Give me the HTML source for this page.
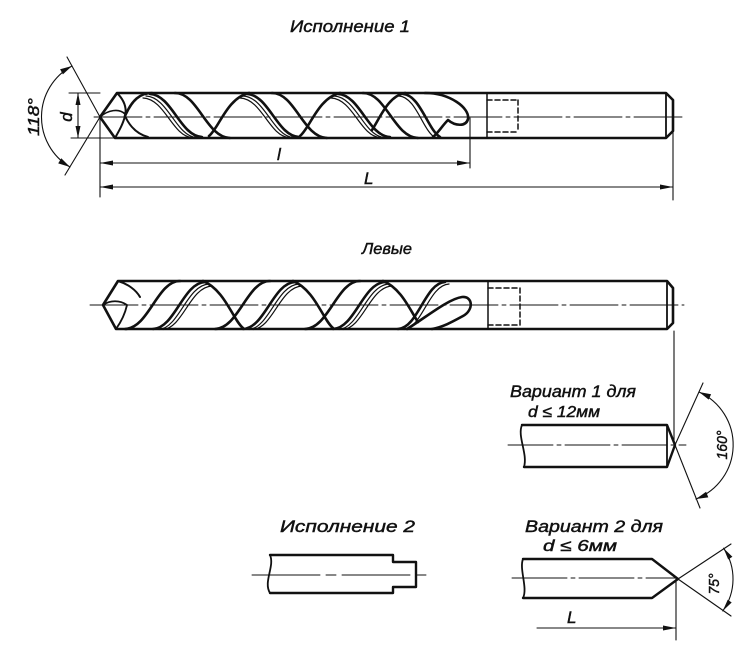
<!DOCTYPE html>
<html><head><meta charset="utf-8"><style>
html,body{margin:0;padding:0;background:#fff;}
svg{display:block;}
text{font-family:"Liberation Sans","DejaVu Sans",sans-serif;font-style:italic;fill:#111;stroke:#111;stroke-width:0.45;}
</style></head><body>
<svg width="750" height="656" viewBox="0 0 750 656" xmlns="http://www.w3.org/2000/svg">
<rect width="750" height="656" fill="#fff"/>

<!-- Titles -->
<text x="290" y="32" font-size="17" textLength="120" lengthAdjust="spacingAndGlyphs">Исполнение 1</text>
<text x="362" y="254" font-size="16" textLength="50" lengthAdjust="spacingAndGlyphs">Левые</text>
<text x="510" y="397" font-size="17" textLength="126" lengthAdjust="spacingAndGlyphs">Вариант 1 для</text>
<text x="528" y="417" font-size="16" textLength="72" lengthAdjust="spacingAndGlyphs">d ≤ 12мм</text>
<text x="280" y="532" font-size="17" textLength="135" lengthAdjust="spacingAndGlyphs">Исполнение 2</text>
<text x="525" y="532" font-size="17" textLength="138" lengthAdjust="spacingAndGlyphs">Вариант 2 для</text>
<text x="543" y="551" font-size="16" textLength="74" lengthAdjust="spacingAndGlyphs">d ≤ 6мм</text>
<text x="277" y="160" font-size="17">l</text>
<text x="364" y="184" font-size="17">L</text>
<text x="567" y="623" font-size="17">L</text>
<text transform="translate(39,117) rotate(-90)" font-size="16" text-anchor="middle" textLength="38" lengthAdjust="spacingAndGlyphs">118°</text>
<text transform="translate(72,117) rotate(-90)" font-size="17" text-anchor="middle">d</text>
<text transform="translate(727,445) rotate(-90)" font-size="15" text-anchor="middle" textLength="29" lengthAdjust="spacingAndGlyphs">160°</text>
<text transform="translate(719,584) rotate(-90)" font-size="15" text-anchor="middle" textLength="21" lengthAdjust="spacingAndGlyphs">75°</text>

<g stroke="#111" fill="none" stroke-linecap="round" stroke-linejoin="round">

<!-- ================= TOP DRILL ================= -->
<line x1="94" y1="117" x2="684" y2="117" stroke-width="0.9" stroke-dasharray="48 4 4 4"/>
<path d="M100,117 L117,93 L666,93 L673,100 L673,131 L666,138 L115,138 Z" stroke-width="2.6"/>
<line x1="666" y1="93" x2="666" y2="138" stroke-width="1.8"/>
<!-- lip -->
<path d="M117,93 C124,100 127,108 125,116 C123,124 119,131 115,138" stroke-width="2"/>
<path d="M100,117 C108,110 119,108 125,114" stroke-width="1.6"/>
<path d="M125,116 C130,127 137,134 148,137" stroke-width="2"/>
<!-- flutes -->
<g stroke-width="2.6">
<path d="M125,116 C132,100 140,93 152,93"/>
<path d="M150,94 C172,95 180,136 202,137"/>
<path d="M175,93 C198,93 206,137 230,138"/>
<path d="M209,136 C219,128 227,98 249,93"/>
<path d="M247,94 C269,95 277,136 299,137"/>
<path d="M272,93 C295,93 303,137 327,138"/>
<path d="M300,136 C310,128 318,98 340,93"/>
<path d="M338,94 C360,95 368,136 390,137"/>
<path d="M363,93 C386,93 394,137 418,138"/>
<path d="M372,130 C380,118 388,96 405,93"/>
<path d="M403,94 C420,95 428,130 440,137"/>
<path d="M425,93 C450,93 470,108 468,119 C466,127 455,126 448,120 C442,126 438,133 433,137"/>
</g>
<g stroke-width="1.2">
<path d="M146,96 C168,97 176,136 196,137.5"/>
<path d="M143,98 C165,99 172,136 192,137.5"/>
<path d="M243,96 C265,97 273,136 293,137.5"/>
<path d="M240,98 C262,99 269,136 289,137.5"/>
<path d="M334,96 C356,97 364,136 384,137.5"/>
<path d="M331,98 C353,99 360,136 380,137.5"/>
<path d="M399,96 C416,97 423,131 435,137.5"/>
</g>
<!-- shank marking box -->
<line x1="487" y1="93" x2="487" y2="138" stroke-width="1.5"/>
<line x1="518" y1="100" x2="518" y2="132" stroke-width="1.5" stroke-dasharray="5 3"/>
<line x1="487" y1="100" x2="518" y2="100" stroke-width="1.5" stroke-dasharray="5 3"/>
<line x1="487" y1="132" x2="518" y2="132" stroke-width="1.5" stroke-dasharray="5 3"/>

<!-- dimensions -->
<g stroke-width="1.1">
<line x1="100" y1="117" x2="100" y2="197"/>
<line x1="470" y1="118" x2="470" y2="168"/>
<line x1="673" y1="100" x2="673" y2="200"/>
<line x1="100" y1="163" x2="470" y2="163"/>
<line x1="100" y1="187" x2="673" y2="187"/>
<line x1="69" y1="93" x2="100" y2="93"/>
<line x1="71" y1="138" x2="114" y2="138"/>
<line x1="78" y1="93" x2="78" y2="138"/>
<line x1="67" y1="57" x2="100" y2="117"/>
<line x1="100" y1="117" x2="65" y2="175"/>
<path d="M72,66 A58,58 0 0 0 70,167"/>
<line x1="674" y1="331" x2="674" y2="443"/>
<line x1="703" y1="383" x2="675" y2="445"/>
<line x1="675" y1="445" x2="700" y2="508"/>
<path d="M699,392 A58,58 0 0 1 696,499"/>
<line x1="731" y1="544" x2="678" y2="579"/>
<line x1="678" y1="579" x2="731" y2="616"/>
<path d="M723.6,548.2 A55,55 0 0 1 722.8,610.9"/>
<line x1="537" y1="628" x2="676" y2="628"/>
<line x1="676" y1="579" x2="676" y2="640"/>
</g>
</g>

<!-- arrowheads -->
<g fill="#111" stroke="none">
<polygon points="100,163 113,160.5 113,165.5"/>
<polygon points="470,163 457,160.5 457,165.5"/>
<polygon points="100,187 113,184.5 113,189.5"/>
<polygon points="673,187 660,184.5 660,189.5"/>
<polygon points="78,93 75.5,105 80.5,105"/>
<polygon points="78,138 75.5,126 80.5,126"/>
<polygon points="72,66 62.9,74.4 60.1,69.2"/>
<polygon points="70,167 58.2,163.4 61.3,158.2"/>
<polygon points="699,392 711.1,394.2 708.7,399.6"/>
<polygon points="696,499 708.3,497.4 706.1,491.8"/>
<polygon points="723.6,548.2 732.4,556.7 728.2,559.5"/>
<polygon points="722.8,610.9 731.7,602.5 727.7,599.7"/>
<polygon points="676,628 663,625.5 663,630.5"/>
</g>

<g stroke="#111" fill="none" stroke-linecap="round" stroke-linejoin="round">
<!-- ================= LEFT-HAND DRILL ================= -->
<line x1="90" y1="305" x2="684" y2="305" stroke-width="0.9" stroke-dasharray="48 4 4 4"/>
<path d="M103,305 L118,281 L667,281 L673,288 L673,323 L667,329 L116,329 Z" stroke-width="2.6"/>
<line x1="667" y1="281" x2="667" y2="329" stroke-width="1.8"/>
<path d="M118,281 C128,284 136,290 140,297" stroke-width="2"/>
<path d="M103,305 C110,300 120,300 127,305 C125,314 121,322 116,329" stroke-width="1.8"/>
<g stroke-width="2.6">
<path d="M243,328 C233,320 225,290 203,281"/>
<path d="M205,282 C183,283 175,328 153,329"/>
<path d="M180,281 C157,281 149,328 125,329"/>
<path d="M333,328 C323,320 315,290 293,281"/>
<path d="M295,282 C273,283 265,328 243,329"/>
<path d="M270,281 C247,281 239,328 215,329"/>
<path d="M418,322 C410,310 401,288 383,281"/>
<path d="M385,282 C363,283 355,328 333,329"/>
<path d="M360,281 C337,281 329,328 305,329"/>
<path d="M445,282 C425,283 418,328 398,329"/>
<path d="M407,329 C425,318 448,299 462,297 C473,296 474,310 463,316 C452,322 443,327 432,329"/>
</g>
<g stroke-width="1.2">
<path d="M209,284 C187,285 179,328 159,329.5"/>
<path d="M212,286 C190,287 183,328 163,329.5"/>
<path d="M299,284 C277,285 269,328 249,329.5"/>
<path d="M302,286 C280,287 273,328 253,329.5"/>
<path d="M389,284 C367,285 359,328 339,329.5"/>
<path d="M392,286 C370,287 363,328 343,329.5"/>
<path d="M449,284 C429,285 422,328 404,329.5"/>
</g>
<line x1="488" y1="281" x2="488" y2="329" stroke-width="1.5"/>
<line x1="520" y1="288" x2="520" y2="325" stroke-width="1.5" stroke-dasharray="5 3"/>
<line x1="488" y1="288" x2="520" y2="288" stroke-width="1.5" stroke-dasharray="5 3"/>
<line x1="488" y1="325" x2="520" y2="325" stroke-width="1.5" stroke-dasharray="5 3"/>

<!-- ================= VARIANT 1 ================= -->
<line x1="508" y1="445" x2="686" y2="445" stroke-width="0.9" stroke-dasharray="45 4 4 4"/>
<path d="M522,425 L667,425 L675,445 L667,467 L524,467" stroke-width="2.4"/>
<line x1="667" y1="425" x2="667" y2="467" stroke-width="1.8"/>
<path d="M522,425 C517,436 528,454 524,467" stroke-width="1.8"/>

<!-- ================= ISPOLNENIE 2 ================= -->
<line x1="252" y1="575" x2="428" y2="575" stroke-width="0.9" stroke-dasharray="68 6 10 6"/>
<path d="M270,555 L393,555 L393,562 L416,562 L416,587 L393,587 L393,593 L270,593" stroke-width="2.4"/>
<path d="M270,555 C275,566 263,582 270,593" stroke-width="1.8"/>

<!-- ================= VARIANT 2 ================= -->
<line x1="512" y1="578" x2="678" y2="578" stroke-width="0.9" stroke-dasharray="55 4 4 4"/>
<path d="M523,559 L652,559 L678,579 L652,598 L523,598" stroke-width="2.4"/>
<path d="M523,559 C519,569 528,588 523,598" stroke-width="1.8"/>
</g>
</svg>
</body></html>
